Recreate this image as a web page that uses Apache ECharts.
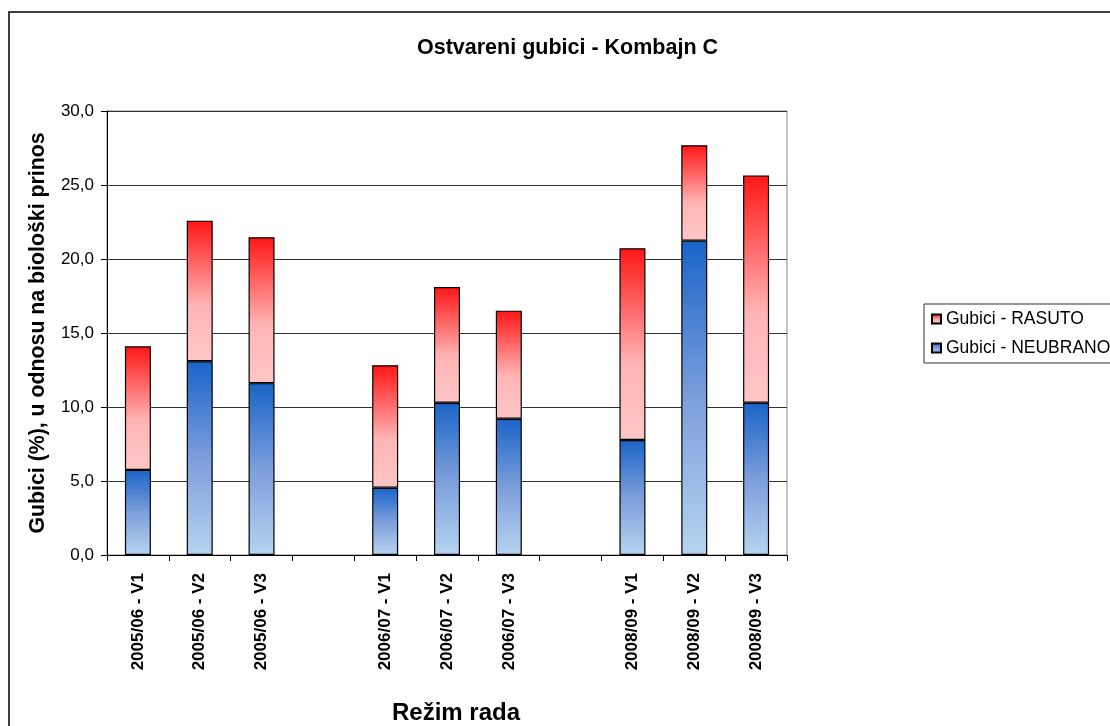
<!DOCTYPE html>
<html>
<head>
<meta charset="utf-8">
<script src="https://cdn.jsdelivr.net/npm/echarts@6/dist/echarts.min.js"></script>
<style>
  html, body { margin: 0; padding: 0; background: #fff; }
  #chart { width: 1110px; height: 726px; }
</style>
</head>
<body>
<div id="chart"></div>
<script>
// categories (empty slots keep the gaps between seasons)
const categories = [
  '2005/06 - V1', '2005/06 - V2', '2005/06 - V3', '',
  '2006/07 - V1', '2006/07 - V2', '2006/07 - V3', '',
  '2008/09 - V1', '2008/09 - V2', '2008/09 - V3'
];
// Gubici - NEUBRANO (bottom, blue)
const neubrano = [5.75, 13.09, 11.61, null, 4.54, 10.29, 9.21, null, 7.77, 21.24, 10.29];
// Gubici - RASUTO (top, red)
const rasuto = [8.35, 9.50, 9.86, null, 8.28, 7.81, 7.30, null, 12.96, 6.45, 15.36];
const yTicks = { min: 0, max: 30, interval: 5 };

const FONT = 'Liberation Sans, Arial, sans-serif';

const blueGrad = new echarts.graphic.LinearGradient(0, 0, 0, 1, [
  { offset: 0, color: '#1a64c8' },
  { offset: 0.5, color: '#7c9edb' },
  { offset: 1, color: '#b6d4f0' }
]);
const redGrad = new echarts.graphic.LinearGradient(0, 0, 0, 1, [
  { offset: 0, color: '#ff1616' },
  { offset: 0.6, color: '#ffb4b4' },
  { offset: 1, color: '#ffc6c6' }
]);

const chart = echarts.init(document.getElementById('chart'));
chart.setOption({
  animation: false,
  backgroundColor: '#fff',
  textStyle: { fontFamily: FONT, color: '#000' },
  graphic: [{
    type: 'rect',
    shape: { x: 9, y: 12, width: 1300, height: 900 },
    style: { fill: 'none', stroke: '#000', lineWidth: 1.5 },
    silent: true
  }],
  title: {
    text: 'Ostvareni gubici - Kombajn C',
    left: 417,
    top: 37,
    padding: 0,
    textStyle: { fontFamily: FONT, fontSize: 21.5, fontWeight: 'bold', color: '#000' }
  },
  legend: {
    orient: 'vertical',
    left: 924,
    top: 304,
    data: ['Gubici - RASUTO', 'Gubici - NEUBRANO'],
    icon: 'rect',
    itemWidth: 9,
    itemHeight: 9,
    itemGap: 11,
    padding: [6, 7, 6, 7],
    borderColor: '#333',
    borderWidth: 1,
    textStyle: { fontFamily: FONT, fontSize: 17.5, color: '#000' }
  },
  grid: {
    left: 107, right: 323, top: 111, bottom: 171,
    outerBoundsMode: 'none',
    show: true, borderColor: '#888', borderWidth: 1
  },
  xAxis: {
    type: 'category',
    data: categories,
    name: 'Režim rada',
    nameLocation: 'middle',
    nameGap: 146,
    nameTextStyle: {
      fontFamily: FONT, fontSize: 24, fontWeight: 'bold', color: '#000',
      padding: [0, 0, 0, 18]
    },
    axisLine: { lineStyle: { color: '#000', width: 1 } },
    axisTick: { show: true, interval: 0, length: 6, lineStyle: { color: '#000' } },
    axisLabel: {
      interval: 0, rotate: 90, margin: 18,
      fontFamily: FONT, fontSize: 17, fontWeight: 'bold', color: '#000'
    },
    splitLine: { show: false }
  },
  yAxis: {
    type: 'value',
    min: yTicks.min, max: yTicks.max, interval: yTicks.interval,
    name: 'Gubici (%), u odnosu na biološki prinos',
    nameLocation: 'middle',
    nameGap: 58,
    nameTextStyle: { fontFamily: FONT, fontSize: 21.3, fontWeight: 'bold', color: '#000' },
    axisLine: { show: true, lineStyle: { color: '#000', width: 1 } },
    axisTick: { show: true, length: 6, lineStyle: { color: '#000' } },
    axisLabel: {
      margin: 13, fontFamily: FONT, fontSize: 17, color: '#000',
      formatter: v => v.toFixed(1).replace('.', ',')
    },
    splitLine: { lineStyle: { color: '#333', width: 1 } }
  },
  series: [
    {
      name: 'Gubici - NEUBRANO',
      type: 'bar',
      stack: 'g',
      barWidth: 26,
      data: neubrano,
      itemStyle: { color: blueGrad, borderColor: '#000', borderWidth: 1.2 }
    },
    {
      name: 'Gubici - RASUTO',
      type: 'bar',
      stack: 'g',
      barWidth: 26,
      data: rasuto,
      itemStyle: { color: redGrad, borderColor: '#000', borderWidth: 1.2 }
    }
  ]
});
</script>
</body>
</html>
